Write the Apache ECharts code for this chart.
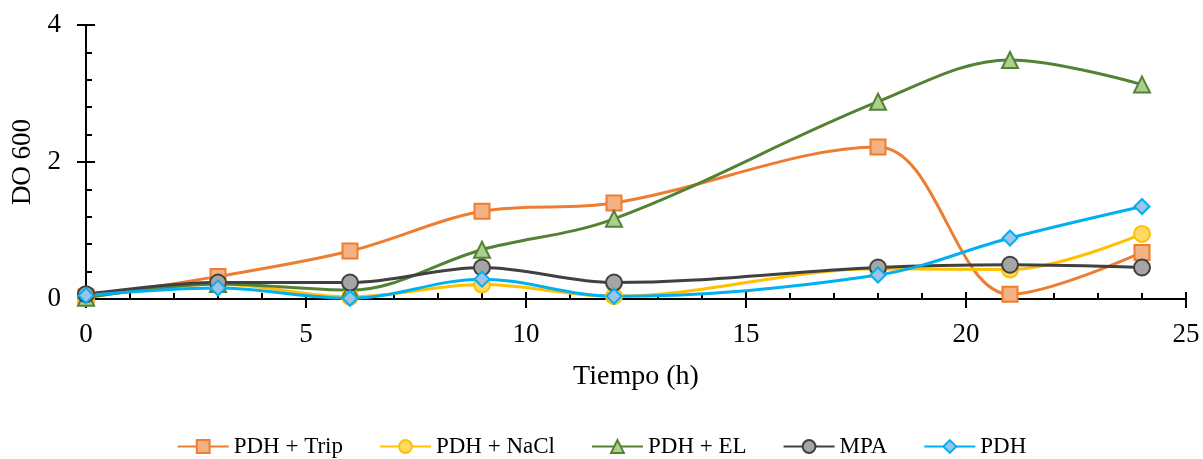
<!DOCTYPE html>
<html>
<head>
<meta charset="utf-8">
<script src="https://cdn.jsdelivr.net/npm/echarts@6/dist/echarts.min.js"></script>
<style>
  html, body { margin: 0; padding: 0; background: #fff; }
  #chart { width: 1203px; height: 459px; }
</style>
</head>
<body>
<div id="chart"></div>
<script>
// Sampling times (h)
const tiempos = [0, 3, 6, 9, 12, 18, 21, 24];

// Optical density at 600 nm for each medium
const pdhTrip = [0.03, 0.33, 0.70, 1.28, 1.40, 2.22, 0.07, 0.68];
const pdhNaCl = [0.02, 0.22, 0.03, 0.21, 0.04, 0.44, 0.43, 0.95];
const pdhEL   = [0.02, 0.22, 0.13, 0.72, 1.17, 2.88, 3.49, 3.13];
const mpa     = [0.07, 0.24, 0.24, 0.46, 0.24, 0.46, 0.50, 0.46];
const pdh     = [0.05, 0.16, 0.01, 0.29, 0.04, 0.35, 0.89, 1.35];

const seriesNames = ['PDH + Trip', 'PDH + NaCl', 'PDH + EL', 'MPA', 'PDH'];

const FONT = '"Liberation Serif", "Times New Roman", serif';

function pairs(values) {
  return tiempos.map((t, i) => [t, values[i]]);
}

function lineSeries(name, values, lineColor, fillColor, symbol, size) {
  return {
    name: name,
    type: 'line',
    xAxisIndex: 0,
    yAxisIndex: 0,
    data: pairs(values),
    smooth: 0.35,
    symbol: symbol,
    symbolSize: size,
    showAllSymbol: true,
    lineStyle: { color: lineColor, width: 3 },
    itemStyle: { color: fillColor, borderColor: lineColor, borderWidth: 2 },
    emphasis: { disabled: true }
  };
}

const axisLineStyle = { color: '#000', width: 2 };

const chart = echarts.init(document.getElementById('chart'), null, { renderer: 'canvas' });

chart.setOption({
  animation: false,
  backgroundColor: '#fff',
  textStyle: { fontFamily: FONT },
  grid: { left: 86, right: 17, top: 25, bottom: 160, containLabel: false },
  legend: {
    top: 430,
    left: 'center',
    itemWidth: 51,
    itemHeight: 16,
    itemGap: 36,
    data: seriesNames,
    textStyle: { fontFamily: FONT, fontSize: 23, color: '#000' }
  },
  xAxis: [
    {
      type: 'value', min: 0, max: 25, interval: 5,
      name: 'Tiempo (h)', nameLocation: 'middle', nameGap: 64,
      nameTextStyle: { fontFamily: FONT, fontSize: 28, color: '#000' },
      axisLine: { show: true, onZero: false, lineStyle: axisLineStyle },
      axisTick: { show: true, inside: false, length: 9, lineStyle: { color: '#000', width: 2 } },
      axisLabel: { fontFamily: FONT, fontSize: 27, color: '#000', margin: 22 },
      splitLine: { show: false }
    },
    {
      type: 'value', min: 0, max: 25, interval: 5, position: 'bottom',
      axisLine: { show: false, onZero: false },
      axisTick: { show: true, inside: true, length: 7, lineStyle: { color: '#000', width: 2 } },
      minorTick: { show: true, splitNumber: 5, length: 6, lineStyle: { color: '#000', width: 2 } },
      axisLabel: { show: false },
      splitLine: { show: false }
    }
  ],
  yAxis: [
    {
      type: 'value', min: 0, max: 4, interval: 2,
      name: 'DO 600', nameLocation: 'middle', nameGap: 50, nameRotate: 90,
      nameTextStyle: { fontFamily: FONT, fontSize: 27, color: '#000' },
      axisLine: { show: true, onZero: false, lineStyle: axisLineStyle },
      axisTick: { show: true, inside: false, length: 9, lineStyle: { color: '#000', width: 2 } },
      axisLabel: { fontFamily: FONT, fontSize: 27, color: '#000', margin: 25 },
      splitLine: { show: false }
    },
    {
      type: 'value', min: 0, max: 4, interval: 2, position: 'left',
      axisLine: { show: false, onZero: false },
      axisTick: { show: true, inside: true, length: 9, lineStyle: { color: '#000', width: 2 } },
      minorTick: { show: true, splitNumber: 5, length: 6, lineStyle: { color: '#000', width: 2 } },
      axisLabel: { show: false },
      splitLine: { show: false }
    }
  ],
  series: [
    lineSeries('PDH + Trip', pdhTrip, '#ED7D31', '#F4B183', 'rect', 15),
    lineSeries('PDH + NaCl', pdhNaCl, '#FFC000', '#FFD966', 'circle', 16),
    lineSeries('PDH + EL', pdhEL, '#548235', '#A9D18E', 'triangle', 16),
    lineSeries('MPA', mpa, '#404040', '#A5A5A5', 'circle', 16),
    lineSeries('PDH', pdh, '#00B0F0', '#9DC3E6', 'diamond', 15)
  ]
});
</script>
</body>
</html>
